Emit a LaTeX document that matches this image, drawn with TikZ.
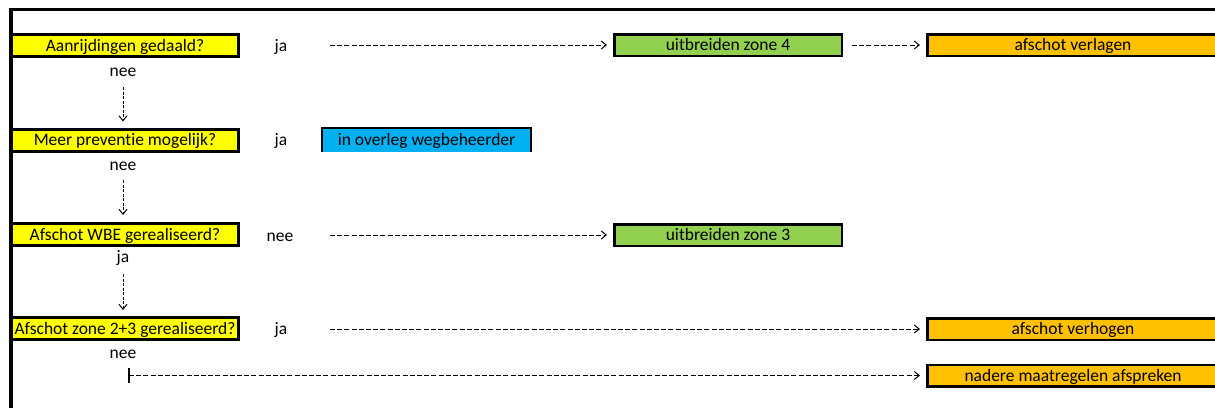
\documentclass[tikz,border=0pt]{standalone}
\usepackage{fontspec}
\setmainfont{Carlito}[Ligatures=NoCommon]
\usetikzlibrary{arrows.meta}
\definecolor{qyellow}{HTML}{FFFF00}
\definecolor{qgreen}{HTML}{92D050}
\definecolor{qorange}{HTML}{FFC000}
\definecolor{qblue}{HTML}{00B0F0}
\begin{document}
\begin{tikzpicture}[x=1pt,y=-1pt,
  every node/.style={font=\fontsize{17.5}{19}\selectfont, inner sep=0pt},
  boxtext/.style={text height=13pt, text depth=1.5pt},
  qbox/.style={boxtext, draw, line width=3pt, fill=qyellow, minimum width=227pt, minimum height=22pt},
  abox/.style={boxtext, draw, line width=2.5pt, minimum height=21.5pt},
  lbl/.style={anchor=base},
  conn/.style={dash pattern=on 5pt off 2.2pt, line width=0.8pt,
    -{Straight Barb[length=5pt,width=8pt,line width=1pt]}},
  vconn/.style={dash pattern=on 3pt off 1.5pt, line width=0.8pt,
    -{Straight Barb[length=5pt,width=8pt,line width=1pt]}}
]
\useasboundingbox (0,0) rectangle (1215,407);
% outer frame
\draw[line width=3.5pt] (11,412) -- (11,9.5) -- (1225,9.5);

% question boxes
\node[qbox] (q1) at (125,45.5) {Aanrijdingen gedaald?};
\node[qbox] (q2) at (125,140) {Meer preventie mogelijk?};
\node[qbox] (q3) at (125,234.5) {Afschot WBE gerealiseerd?};
\node[qbox] (q4) at (125,328.5) {Afschot zone 2+3 gerealiseerd?};

% labels
\node[lbl] (ja1) at (281,51) {ja};
\node[lbl] (nee1) at (123,76) {nee};
\node[lbl] (ja2) at (281,145.5) {ja};
\node[lbl] (nee2) at (123,170) {nee};
\node[lbl] (nee3) at (280,241) {nee};
\node[lbl] (ja3) at (123,262) {ja};
\node[lbl] (ja4) at (281,334.5) {ja};
\node[lbl] (nee4) at (123,358) {nee};

% action boxes
\node[abox, fill=qgreen, minimum width=227.5pt] (g1) at (728,45) {uitbreiden zone 4};
\node[abox, fill=qorange, minimum width=291.5pt] (o1) at (1073,45) {afschot verlagen};
\node[boxtext, fill=qblue, minimum width=209pt, minimum height=24pt] (b2) at (426.5,140) {in overleg wegbeheerder};
\draw[line width=2pt] (b2.south west) -- (b2.north west) -- (b2.north east) -- (b2.south east);
\node[abox, fill=qgreen, minimum width=227.5pt] (g3) at (728,235) {uitbreiden zone 3};
\node[abox, fill=qorange, minimum width=291.5pt] (o4) at (1073,329) {afschot verhogen};
\node[abox, fill=qorange, minimum width=291.5pt] (o5) at (1073,375.5) {nadere maatregelen afspreken};

% vertical connectors
\draw[vconn, shorten <=11pt, shorten >=6pt] (nee1.south) -- (nee1.south |- q2.north);
\draw[vconn, shorten <=10pt, shorten >=7pt] (nee2.south) -- (nee2.south |- q3.north);
\draw[vconn, shorten <=9pt, shorten >=6pt] (ja3.south) -- (ja3.south |- q4.north);

% horizontal connectors
\coordinate (s1) at (330,45);
\coordinate (s3) at (330,235);
\coordinate (s4) at (330,329);
\coordinate (s5) at (129,375.5);
\draw[conn, shorten >=6pt] (s1) -- (g1.west);
\draw[conn, shorten <=9pt, shorten >=6pt] (g1.east) -- (o1.west);
\draw[conn, shorten >=6pt] (s3) -- (g3.west);
\draw[conn, shorten >=6pt] (s4) -- (o4.west);
\draw[conn, shorten >=6pt] (s5) -- (o5.west);
\draw[line width=1.5pt] ([yshift=-7.5pt]s5) -- ([yshift=7.5pt]s5);
\end{tikzpicture}
\end{document}
